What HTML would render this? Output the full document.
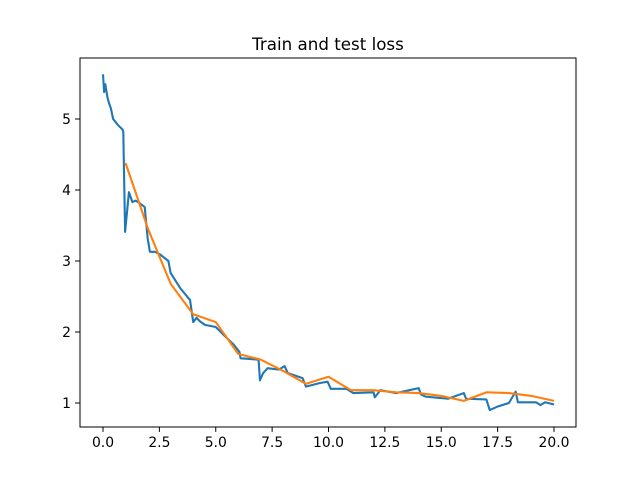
<!DOCTYPE html>
<html><head><meta charset="utf-8"><style>
body{margin:0;background:#fff;font-family:"Liberation Sans","DejaVu Sans",sans-serif}
svg text{font-family:"DejaVu Sans","Liberation Sans",sans-serif;font-size:13.9px;fill:#000}
</style></head><body>
<svg id="chart" width="640" height="480" xmlns="http://www.w3.org/2000/svg">
<rect width="640" height="480" fill="#fff"/>
<text x="328" y="50" text-anchor="middle" style="font-size:16.7px">Train and test loss</text>
<g id="plot"></g>
</svg>
<script>
const trainX=[0,0.05,0.1,0.2,0.27,0.35,0.45,0.65,0.87,0.9,0.98,1.15,1.3,1.45,1.6,1.85,1.98,2.08,2.3,2.5,2.9,3.0,3.1,3.42,3.86,4.0,4.15,4.3,4.52,5.0,5.35,5.8,6.05,6.1,6.5,6.9,6.96,7.1,7.3,7.8,8.05,8.2,8.85,9.0,9.6,9.96,10.1,10.8,11.1,12.0,12.05,12.15,12.3,13.0,14.0,14.1,14.3,15.3,16.0,16.1,17.0,17.15,17.5,18.0,18.3,18.4,18.6,19.2,19.4,19.6,20.0];
const trainY=[5.63,5.38,5.49,5.3,5.22,5.15,5.0,4.92,4.85,4.82,3.41,3.97,3.83,3.85,3.82,3.76,3.32,3.13,3.13,3.1,3.0,2.83,2.78,2.62,2.45,2.14,2.2,2.15,2.1,2.07,1.96,1.82,1.72,1.63,1.62,1.61,1.32,1.42,1.49,1.47,1.52,1.42,1.35,1.23,1.28,1.3,1.2,1.2,1.14,1.15,1.08,1.12,1.18,1.14,1.21,1.12,1.09,1.06,1.14,1.06,1.05,0.9,0.95,1.0,1.16,1.01,1.01,1.01,0.97,1.01,0.98];
const testX=[1,2,3,4,5,6,7,8,9,10,11,12,13,14,15,16,17,18,19,20];
const testY=[4.38,3.45,2.68,2.25,2.14,1.69,1.61,1.45,1.27,1.37,1.18,1.18,1.15,1.14,1.1,1.03,1.15,1.14,1.1,1.03];
const xTicks=[0,2.5,5,7.5,10,12.5,15,17.5,20];
const xTickLabels=["0.0","2.5","5.0","7.5","10.0","12.5","15.0","17.5","20.0"];
const yTicks=[1,2,3,4,5];
const yTickLabels=["1","2","3","4","5"];
const L=80,R=576,T=58,B=427;
function xs(v){return 103+v*(554-103)/20;}
function ys(v){return 403-(v-1)*71;}
const NS="http://www.w3.org/2000/svg";
const g=document.getElementById('plot');
function mk(t,a){const e=document.createElementNS(NS,t);for(const k in a)e.setAttribute(k,a[k]);g.appendChild(e);return e;}
function line(xa,ya,col,name){
  const p=mk('polyline',{points:xa.map((x,i)=>xs(x)+','+ys(ya[i])).join(' '),fill:'none',stroke:col,'stroke-width':2.1,'stroke-linejoin':'round'});
  
  
}
line(trainX,trainY,'#1f77b4','train-loss-line');
line(testX,testY,'#ff7f0e','test-loss-line');
const fr=mk('rect',{x:L,y:T,width:R-L,height:B-T,fill:'none',stroke:'#000','stroke-width':1});


xTicks.forEach((v,i)=>{
  const x=xs(v);
  const t=mk('line',{x1:x,x2:x,y1:B,y2:B+4.9,stroke:'#000','stroke-width':1});
  
  
  const l=mk('text',{x:x,y:B+20,'text-anchor':'middle'});l.textContent=xTickLabels[i];
  
  
});
yTicks.forEach((v,i)=>{
  const y=ys(v);
  const t=mk('line',{x1:L-4.9,x2:L,y1:y,y2:y,stroke:'#000','stroke-width':1});
  
  
  const l=mk('text',{x:L-9,y:y+5,'text-anchor':'end'});l.textContent=yTickLabels[i];
  
  
});
</script>
</body></html>
